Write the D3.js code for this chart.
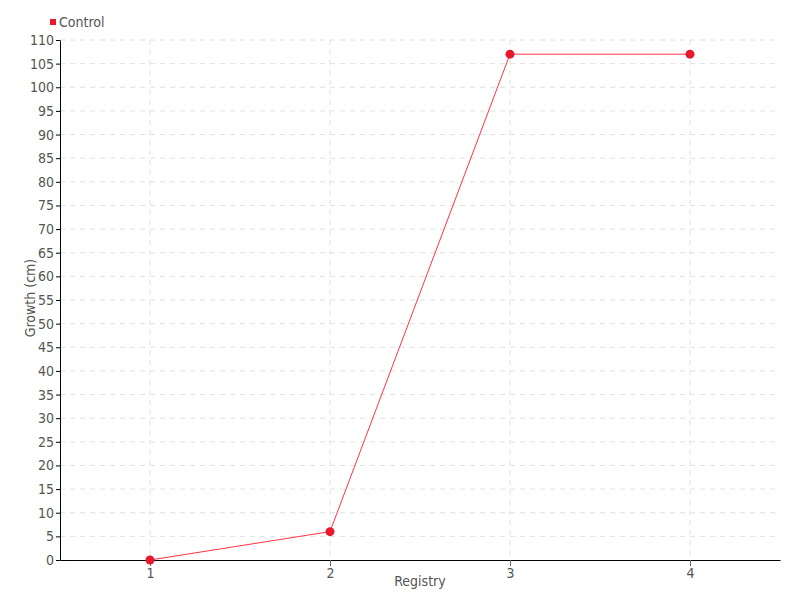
<!DOCTYPE html>
<html><head><meta charset="utf-8">
<script src="https://cdn.jsdelivr.net/npm/d3@7"></script>
<style>body{margin:0;background:#fff}text{font-family:"DejaVu Sans Condensed","DejaVu Sans",sans-serif;}</style>
</head><body><svg id="c" width="800" height="600"></svg>
<script>
const categories = [1, 2, 3, 4];
const seriesName = "Control";
const values = [0, 6, 107, 107];
const yTicks = d3.range(0, 111, 5);

const W = 800, H = 600, m = {l: 60, r: 20, t: 40, b: 40};
const svg = d3.select("#c");
const x = d3.scaleLinear().domain([0.5, 4.5]).range([m.l, W - m.r]);
const y = d3.scaleLinear().domain([0, 110]).range([H - m.b, m.t]);
const red = "#e8192c", txt = "#555";

// grid
svg.append("g").selectAll("line").data(yTicks.slice(1)).join("line")
  .attr("x1", m.l).attr("x2", W - m.r).attr("y1", d => y(d)).attr("y2", d => y(d))
  .attr("stroke", "#e0e0e0").attr("stroke-dasharray", "5,5");
svg.append("g").selectAll("line").data(categories).join("line")
  .attr("x1", d => x(d)).attr("x2", d => x(d)).attr("y1", m.t).attr("y2", H - m.b)
  .attr("stroke", "#e0e0e0").attr("stroke-dasharray", "5,5");

// axes
const gx = svg.append("g").attr("transform", `translate(0,${H - m.b})`)
  .call(d3.axisBottom(x).tickValues(categories).tickFormat(d3.format("d")).tickSize(6).tickPadding(2).tickSizeOuter(0));
gx.select(".domain").attr("stroke", "#000");
gx.selectAll(".tick line").attr("stroke", "#666");
gx.selectAll(".tick text").attr("fill", txt).attr("font-size", 14);

const gy = svg.append("g").attr("transform", `translate(${m.l},0)`)
  .call(d3.axisLeft(y).tickValues(yTicks).tickSize(4).tickPadding(2).tickSizeOuter(0));
gy.select(".domain").attr("stroke", "#000");
gy.selectAll(".tick line").attr("stroke", "#000");
gy.selectAll(".tick text").attr("fill", txt).attr("font-size", 14);

// axis titles
svg.append("text").attr("x", 420).attr("y", 586).attr("text-anchor", "middle")
  .attr("fill", txt).attr("font-size", 14).text("Registry");
svg.append("text").attr("transform", "translate(35,298) rotate(-90)").attr("text-anchor", "middle")
  .attr("fill", txt).attr("font-size", 14).text("Growth (cm)");

// line + points
const data = categories.map((c, i) => ({c, v: values[i]}));
svg.append("path").datum(data)
  .attr("d", d3.line().x(d => x(d.c)).y(d => y(d.v)))
  .attr("fill", "none").attr("stroke", "#ff3344").attr("stroke-width", 1);
svg.append("g").selectAll("circle").data(data).join("circle")
  .attr("cx", d => x(d.c)).attr("cy", d => y(d.v)).attr("r", 4.5).attr("fill", red);

// legend
svg.append("rect").attr("x", 50).attr("y", 19).attr("width", 6).attr("height", 6).attr("fill", red);
svg.append("text").attr("x", 59).attr("y", 27).attr("fill", txt).attr("font-size", 14).text(seriesName);
</script></body></html>
